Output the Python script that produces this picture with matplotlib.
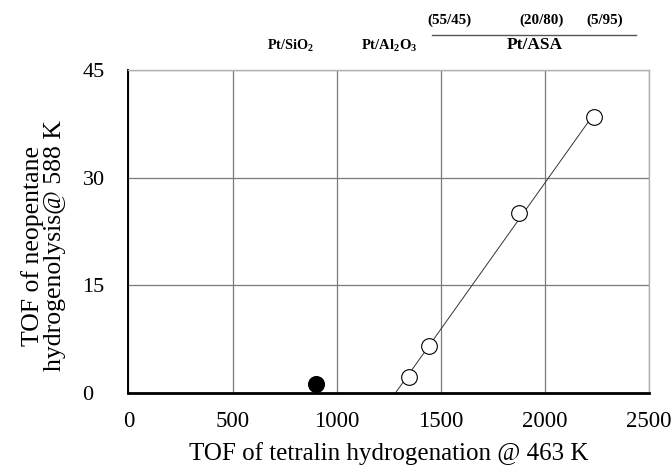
import numpy as np
import matplotlib.pyplot as plt

# ============================================================
# DATA
# ============================================================

# Pt/SiO2 (filled) and Pt/Al2O3 + Pt/ASA series (open)
tetralin_filled = [900]
neopentane_filled = [1.2]

tetralin_open = [1345, 1445, 1875, 2236]
neopentane_open = [2.3, 6.6, 25.0, 38.4]

x_ticks = [0, 500, 1000, 1500, 2000, 2500]
y_ticks = [0, 15, 30, 45]

plt.rcParams['font.family'] = ['Liberation Serif', 'DejaVu Serif']
plt.rcParams['mathtext.fontset'] = 'custom'
plt.rcParams['mathtext.rm'] = 'Liberation Serif'
plt.rcParams['mathtext.bf'] = 'Liberation Serif:bold'

fig = plt.figure(figsize=(6.72, 4.68), dpi=100)
ax = fig.add_axes([0.191, 0.160, 0.775, 0.691])

# trend line through the open points, from y=0 up to the last point
slope, icept = np.polyfit(tetralin_open, neopentane_open, 1)
x0 = -icept / slope
x1 = max(tetralin_open)
ax.plot([x0, x1], [0, slope * x1 + icept], color='#333333', lw=0.7, zorder=2)

ax.plot(tetralin_open, neopentane_open, 'o', ms=11.3, mfc='white',
        mec='black', mew=0.8, zorder=3, clip_on=False)
ax.plot(tetralin_filled, neopentane_filled, 'o', ms=11.3, mfc='black',
        mec='black', zorder=3, clip_on=False)

ax.set_xlim(0, 2500)
ax.set_ylim(0, 45)
ax.set_xticks(x_ticks)
ax.set_yticks(y_ticks)
ax.grid(True, color='#7a7a7a', lw=0.9)
ax.set_axisbelow(True)

for s in ['top', 'right']:
    ax.spines[s].set_color('#b0b0b0')
    ax.spines[s].set_linewidth(1.0)
ax.spines['left'].set_linewidth(1.4)
ax.spines['bottom'].set_linewidth(2.0)

ax.tick_params(axis='both', length=0)
ax.tick_params(axis='x', labelsize=16.5, pad=13)
ax.tick_params(axis='y', labelsize=16, pad=33)
for lab in ax.get_yticklabels():
    lab.set_horizontalalignment('left')

ax.set_xlabel('TOF of tetralin hydrogenation @ 463 K', fontsize=18, labelpad=7)
fig.text(0.064, 1 - 246 / 468, 'TOF of neopentane\nhydrogenolysis@ 588 K',
         rotation=90, ha='center', va='center', fontsize=18.5, linespacing=1.0)

# catalyst labels above the plot
def xf(px):
    return (px - 128.3) / 521.0

def yf(py):
    return (393.3 - py) / 323.3

top_kw = dict(transform=ax.transAxes, ha='center', va='center', fontweight='bold')
ax.text(xf(290), yf(46), r'Pt/SiO$_\mathbf{2}$', fontsize=10.2, **top_kw)
ax.text(xf(389), yf(46), r'Pt/Al$_\mathbf{2}$O$_\mathbf{3}$', fontsize=10.5, **top_kw)
ax.text(xf(535), yf(45), 'Pt/ASA', fontsize=12.5, **top_kw)
ax.text(xf(450), yf(21), '(55/45)', fontsize=10.8, **top_kw)
ax.text(xf(542), yf(21), '(20/80)', fontsize=10.8, **top_kw)
ax.text(xf(605), yf(21), '(5/95)', fontsize=10.8, **top_kw)
ax.plot([xf(432), xf(636)], [yf(35), yf(35)], transform=ax.transAxes,
        color='#555555', lw=1.0, clip_on=False)

plt.savefig('out.png', dpi=100)
